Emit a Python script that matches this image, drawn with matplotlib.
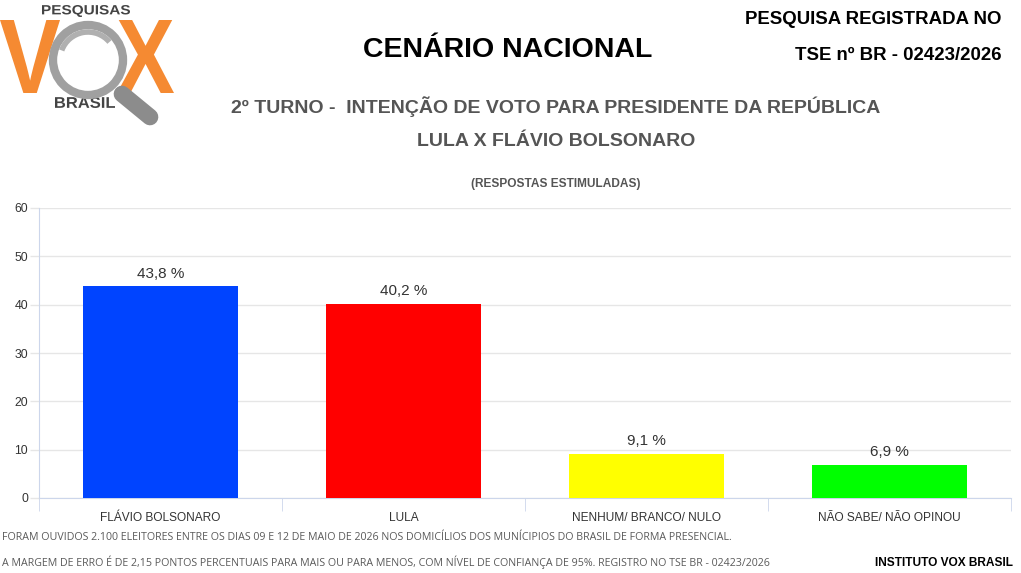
import numpy as np
import matplotlib.pyplot as plt
from matplotlib.patches import Circle, PathPatch, Arc
from matplotlib.textpath import TextPath
from matplotlib.font_manager import FontProperties
from matplotlib.transforms import Affine2D

# Data
categories = ['FLÁVIO BOLSONARO', 'LULA', 'NENHUM/ BRANCO/ NULO', 'NÃO SABE/ NÃO OPINOU']
values = [43.8, 40.2, 9.1, 6.9]
bar_colors = ['#0044ff', '#ff0000', '#ffff00', '#00ff00']
y_ticks = [0, 10, 20, 30, 40, 50, 60]

plt.rcParams['font.family'] = ['Liberation Sans', 'DejaVu Sans']

fig = plt.figure(figsize=(10.21, 5.73), dpi=100)
ax = fig.add_axes([39 / 1021, 75 / 573, 972 / 1021, 290 / 573])

x = np.arange(len(categories))
ax.bar(x, values, width=0.64, color=bar_colors, zorder=3)
for xi, v in zip(x, values):
    ax.text(xi, v + 1.2, f'{v:.1f} %'.replace('.', ','), ha='center', va='bottom',
            fontsize=11, color='#333333')

ax.set_xlim(-0.5, len(categories) - 0.5)
ax.set_ylim(0, 60)
ax.set_yticks(y_ticks)
ax.set_xticks(x)
ax.set_xticklabels(categories, fontsize=8.6, color='#333333')
ax.tick_params(axis='x', length=0, pad=10)
ax.tick_params(axis='y', length=6.5, width=1, color='#e6e6e6', pad=1.5,
               labelsize=8.8, labelcolor='#333333')
# category boundary ticks
ax.set_xticks(np.arange(-0.5, len(categories)), minor=True)
ax.tick_params(axis='x', which='minor', length=9, color='#ccd6eb')
ax.grid(axis='y', color='#e6e6e6', linewidth=1, zorder=0)
for s in ['top', 'right']:
    ax.spines[s].set_visible(False)
ax.spines['left'].set_color('#ccd6eb')
ax.spines['bottom'].set_color('#ccd6eb')

# Titles
fig.text(508 / 1021, 1 - 50 / 573, 'CENÁRIO NACIONAL', ha='center', va='center',
         fontsize=20.5, fontweight='bold', color='#000000')
fig.text(556 / 1021, 1 - 107 / 573, '2º TURNO -  INTENÇÃO DE VOTO PARA PRESIDENTE DA REPÚBLICA',
         ha='center', va='center', fontsize=14, fontweight='bold', color='#555555')
fig.text(556 / 1021, 1 - 142 / 573, 'LULA X FLÁVIO BOLSONARO', ha='center', va='center',
         fontsize=14, fontweight='bold', color='#555555')
fig.text(556 / 1021, 1 - 184 / 573, '(RESPOSTAS ESTIMULADAS)', ha='center', va='center',
         fontsize=8.6, fontweight='bold', color='#555555')
fig.text(1001 / 1021, 1 - 20 / 573, 'PESQUISA REGISTRADA NO', ha='right', va='center',
         fontsize=13.4, fontweight='bold', color='#000000')
fig.text(1001 / 1021, 1 - 55 / 573, 'TSE nº BR - 02423/2026', ha='right', va='center',
         fontsize=13.4, fontweight='bold', color='#000000')

# Footer
footer_font = ['Open Sans', 'DejaVu Sans']
fig.text(2 / 1021, 1 - 538 / 573,
         'FORAM OUVIDOS 2.100 ELEITORES ENTRE OS DIAS 09 E 12 DE MAIO DE 2026 NOS DOMICÍLIOS DOS MUNÍCIPIOS DO BRASIL DE FORMA PRESENCIAL.',
         ha='left', va='center', fontsize=7.62, color='#5a5a5a', family=footer_font)
fig.text(2 / 1021, 1 - 562 / 573,
         'A MARGEM DE ERRO É DE 2,15 PONTOS PERCENTUAIS PARA MAIS OU PARA MENOS, COM NÍVEL DE CONFIANÇA DE 95%. REGISTRO NO TSE BR - 02423/2026',
         ha='left', va='center', fontsize=7.62, color='#5a5a5a', family=footer_font)
fig.text(1013 / 1021, 1 - 563 / 573, 'INSTITUTO VOX BRASIL', ha='right', va='center',
         fontsize=8.6, fontweight='bold', color='#000000')

# Logo
logo = fig.add_axes([0, 1 - 130 / 573, 200 / 1021, 130 / 573])
logo.set_xlim(0, 200)
logo.set_ylim(130, 0)
logo.axis('off')
bold = FontProperties(family='Liberation Sans', weight='bold')


def letter(ch, x0, x1, y0, y1, color):
    tp = TextPath((0, 0), ch, size=1, prop=bold)
    bb = tp.get_extents()
    tr = (Affine2D().translate(-bb.x0, -bb.y0)
          .scale((x1 - x0) / bb.width, -(y1 - y0) / bb.height)
          .translate(x0, y1))
    logo.add_patch(PathPatch(tr.transform_path(tp), facecolor=color, edgecolor='none', zorder=1))


letter('V', 0, 60, 20, 93, '#f58a32')
letter('X', 117, 174, 20, 93, '#f58a32')
letter('PESQUISAS', 42, 130, 5, 17, '#444444')
letter('BRASIL', 55, 115, 97, 108, '#444444')
logo.plot([122, 150], [94, 117], color='#8c8c8c', linewidth=12, solid_capstyle='round', zorder=2)
logo.add_patch(Circle((88, 60), 35, facecolor='white', edgecolor='#a0a0a0', linewidth=6, zorder=3))
logo.add_patch(Arc((88, 60), 56, 56, theta1=200, theta2=320, color='#b0b0b0', linewidth=4, zorder=4))

fig.savefig('out.png', dpi=100)
